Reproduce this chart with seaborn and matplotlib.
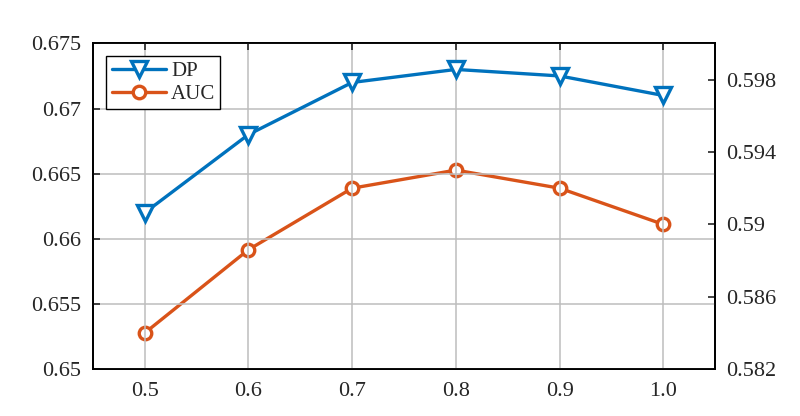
import matplotlib
matplotlib.use("Agg")
import matplotlib.pyplot as plt
import seaborn as sns
import pandas as pd
from matplotlib.ticker import FixedLocator, FixedFormatter

x_vals = [0.5, 0.6, 0.7, 0.8, 0.9, 1.0]
dp_vals = [0.662, 0.668, 0.672, 0.673, 0.6725, 0.671]
auc_vals = [0.5840, 0.5886, 0.5920, 0.5930, 0.5920, 0.5900]
x_labels = ["0.5", "0.6", "0.7", "0.8", "0.9", "1.0"]
left_ticks = [0.65, 0.655, 0.66, 0.665, 0.67, 0.675]
left_labels = ["0.65", "0.655", "0.66", "0.665", "0.67", "0.675"]
right_ticks = [0.582, 0.586, 0.590, 0.594, 0.598]
right_labels = ["0.582", "0.586", "0.59", "0.594", "0.598"]

sns.set_style("white")
plt.rcParams["font.family"] = ["Liberation Serif", "DejaVu Serif"]

blue = "#0072BD"
orange = "#D95319"

df = pd.DataFrame({"x": x_vals, "DP": dp_vals, "AUC": auc_vals})

fig = plt.figure(figsize=(8, 4.16), dpi=100)
ax = fig.add_axes([0.1159, 0.1123, 0.7782, 0.7835])
ax2 = ax.twinx()

sns.lineplot(data=df, x="x", y="DP", ax=ax, color=blue, lw=2.4, marker="v",
             markersize=11, markerfacecolor="white", markeredgecolor=blue,
             markeredgewidth=2.4, label="DP", legend=False)
sns.lineplot(data=df, x="x", y="AUC", ax=ax2, color=orange, lw=2.4, marker="o",
             markersize=9, markerfacecolor="white", markeredgecolor=orange,
             markeredgewidth=2.4, label="AUC", legend=False)

ax.set_xlim(0.45, 1.05)
ax.set_ylim(0.65, 0.675)
ax2.set_ylim(0.582, 0.600)

ax.xaxis.set_major_locator(FixedLocator(x_vals))
ax.xaxis.set_major_formatter(FixedFormatter(x_labels))
ax.yaxis.set_major_locator(FixedLocator(left_ticks))
ax.yaxis.set_major_formatter(FixedFormatter(left_labels))
ax2.yaxis.set_major_locator(FixedLocator(right_ticks))
ax2.yaxis.set_major_formatter(FixedFormatter(right_labels))

ax.set_xlabel("")
ax.set_ylabel("")
ax2.set_ylabel("")

ax.grid(True, color="#bdbdbd", lw=1.1)
ax.set_axisbelow(True)

for a in (ax, ax2):
    for s in a.spines.values():
        s.set_color("black")
        s.set_linewidth(1.3)

ax.tick_params(axis="x", direction="in", top=True, length=5, width=1.2,
               labelsize=16, pad=9)
ax.tick_params(axis="y", direction="in", right=False, length=5, width=1.2,
               labelsize=16, pad=8)
ax2.tick_params(axis="y", direction="in", length=5, width=1.2,
                labelsize=16, pad=8)

h1, l1 = ax.get_legend_handles_labels()
h2, l2 = ax2.get_legend_handles_labels()
leg = ax.legend(h1 + h2, l1 + l2, loc="upper left",
                bbox_to_anchor=(0.022, 0.96), fontsize=15, frameon=True,
                fancybox=False, edgecolor="black", framealpha=1,
                handlelength=2.6, borderpad=0.25, labelspacing=0.15,
                handletextpad=0.25, borderaxespad=0)
leg.get_frame().set_linewidth(1.0)
leg.set_zorder(10)
ax.set_zorder(ax2.get_zorder() + 1)
ax.patch.set_visible(False)

fig.savefig("out.png", dpi=100, facecolor="white")
